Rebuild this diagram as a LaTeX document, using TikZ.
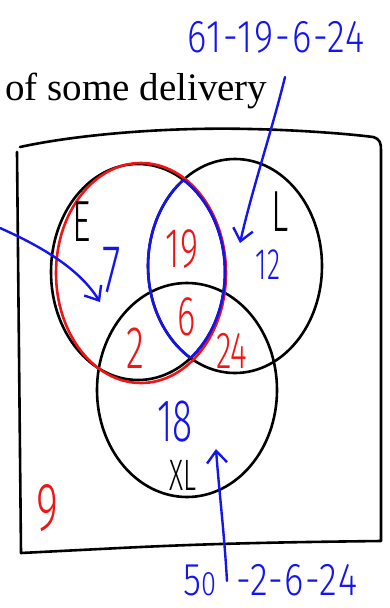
\documentclass[tikz,border=0pt]{standalone}
\usepackage{fontspec}
\setmainfont{Liberation Serif}
\newfontfamily\handfont[FakeStretch=0.62]{Fira Sans Light}
\newfontfamily\handwide[FakeStretch=0.8,LetterSpace=4]{Fira Sans Light}
\usepackage{xcolor}
\usetikzlibrary{arrows.meta,positioning,calc}
\definecolor{penBlue}{HTML}{1414F0}
\definecolor{penRed}{HTML}{F01414}
\newcommand{\vennE}{(138,272) ellipse [x radius=87,y radius=108]}
\newcommand{\vennL}{(235,266) ellipse [x radius=87,y radius=107]}
\newcommand{\vennXL}{(187,390) ellipse [x radius=90,y radius=107]}
\begin{document}
\begin{tikzpicture}[x=1pt,y=-1pt,>={Straight Barb[length=12pt,width=20pt]},
  ink/.style={line width=2.6pt,line cap=round,line join=round},
  hand/.style={font=\handfont\fontsize{56}{56}\selectfont,inner sep=0pt},
  sum/.style={penBlue,inner sep=0pt,font=\handwide\fontsize{46}{46}\selectfont},
  arr/.style={->,penBlue,line width=2.4pt,line cap=round}]
\useasboundingbox (0,0) rectangle (390,608);
\node[anchor=base west,inner sep=0pt,font=\fontsize{39}{40}\selectfont] (title) at (5,100) {of some delivery};
% universe box
\draw[ink] (20,147) .. controls (80,134) and (170,127) .. (250,129)
  .. controls (300,130) and (350,134) .. (373,137)
  .. controls (380,139) and (381,143) .. (381,150) -- (381,541)
  .. controls (300,542) and (220,543) .. (120,548) -- (21,553) -- (17,152);
% the three sets
\draw[ink] \vennE;
\draw[ink] \vennL;
\draw[ink] \vennXL;
\draw[ink,penRed] (141,273) ellipse [x radius=85,y radius=110];
\begin{scope}
  \clip \vennE;
  \draw[ink,penBlue] \vennL;
\end{scope}
\begin{scope}
  \clip \vennL;
  \draw[ink,penBlue] \vennE;
\end{scope}
% set names
\node[hand,font=\handfont\fontsize{58}{58}\selectfont] (nE) at (82,222) {E};
\node[hand,font=\handfont\fontsize{58}{58}\selectfont] (nL) at (280,212) {L};
\node[hand,font=\handfont\fontsize{44}{44}\selectfont] (nXL) at (183,475) {XL};
% region counts
\node[hand,penBlue,font=\handfont\fontsize{68}{68}\selectfont] (onlyE) at (112,270) {7};
\node[hand,penRed] (EL) at (182,249) {19};
\node[hand,penBlue,font=\handfont\fontsize{44}{44}\selectfont] (onlyL) at (268,265) {12};
\node[hand,penRed] (all) at (187,317) {6};
\node[hand,penRed,font=\handfont\fontsize{60}{60}\selectfont] (EXL) at (135,348) {2};
\node[hand,penRed,font=\handfont\fontsize{52}{52}\selectfont] (LXL) at (232,351) {24};
\node[hand,penBlue,font=\handfont\fontsize{60}{60}\selectfont] (onlyXL) at (175,422) {18};
\node[hand,penRed,font=\handfont\fontsize{68}{68}\selectfont] (none) at (47,508) {9};
% side sums
\node[sum] (sumL) at (276,37) {61-19-6-24};
\node[sum,anchor=west] (sumXL) at (183,580)
  {5{\fontsize{34}{34}\selectfont 0}\hspace{20pt}-2-6-24};
\coordinate (tailL) at (285,77);
\coordinate (tipL) at (240,243);
\coordinate (tailE) at (0,228);
\coordinate (tipE) at (100,302);
\coordinate (tailXL) at (227,581);
\coordinate (tipXL) at (216,449);
\draw[arr] (tailL) .. controls (272,130) and (252,190) .. (tipL);
\draw[arr] (tailE) .. controls (45,248) and (80,270) .. (tipE);
\draw[arr] (tailXL) .. controls (224,530) and (219,490) .. (tipXL);
\end{tikzpicture}
\end{document}
